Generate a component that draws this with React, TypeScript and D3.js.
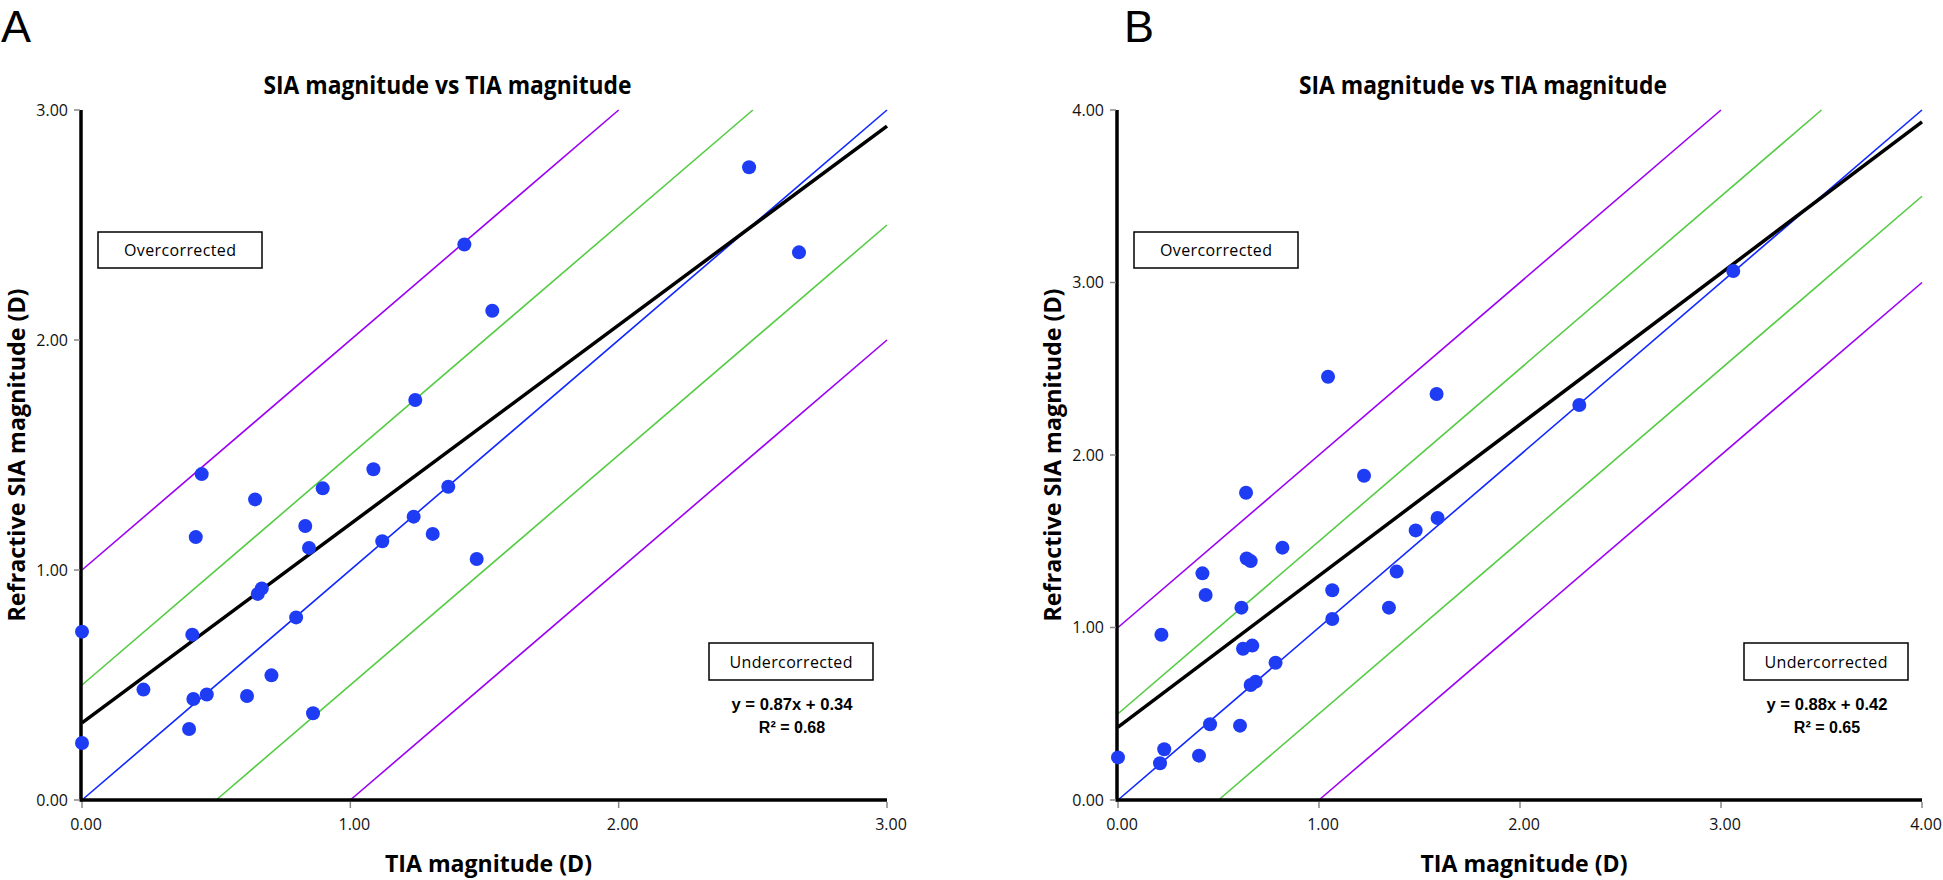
import React from "react";
import * as d3 from "d3";

const TITLE = "SIA magnitude vs TIA magnitude";
const X_LABEL = "TIA magnitude (D)";
const Y_LABEL = "Refractive SIA magnitude (D)";
const OVER = "Overcorrected";
const UNDER = "Undercorrected";

const ticksA = [0, 1, 2, 3];
const ticksB = [0, 1, 2, 3, 4];

const tiaA = [0.446, 0.645, 0.424, 1.086, 0.897, 0.832, 0.846, 1.236, 1.365, 1.119, 1.307, 1.471, 0.670, 0.655, 0.798, 0.0, 0.411, 0.229, 0.415, 0.465, 0.615, 0.706, 0.399, 0.861, 0.0, 2.486, 2.672, 1.425, 1.242, 1.529];
const siaA = [1.417, 1.307, 1.143, 1.438, 1.355, 1.191, 1.096, 1.232, 1.362, 1.125, 1.157, 1.048, 0.920, 0.896, 0.794, 0.732, 0.719, 0.480, 0.439, 0.459, 0.452, 0.542, 0.309, 0.377, 0.248, 2.751, 2.381, 2.415, 1.739, 2.127];

const tiaB = [0.637, 1.224, 1.590, 1.481, 0.818, 0.640, 0.660, 0.420, 0.436, 1.386, 0.614, 1.066, 1.348, 1.066, 0.216, 0.622, 0.668, 0.784, 0.660, 0.685, 0.458, 0.607, 0.230, 0.403, 0.209, 0.0, 1.045, 1.585, 3.061, 2.295];
const siaB = [1.781, 1.880, 1.635, 1.563, 1.463, 1.400, 1.385, 1.314, 1.188, 1.324, 1.115, 1.216, 1.115, 1.049, 0.958, 0.877, 0.895, 0.796, 0.667, 0.686, 0.439, 0.431, 0.294, 0.257, 0.213, 0.247, 2.454, 2.354, 3.067, 2.290];

const fitSlope = [0.865, 0.877];
const fitIntercept = [0.335, 0.423];
const fitEq = ["y = 0.87x + 0.34", "y = 0.88x + 0.42"];
const fitR2 = ["R² = 0.68", "R² = 0.65"];

const refOffsets = [-1, -0.5, 0, 0.5, 1];
const refColors = ["#9b00f5", "#55cc44", "#1028ff", "#55cc44", "#9b00f5"];

const FONT = "'Open Sans', 'DejaVu Sans', sans-serif";

type PanelProps = {
  letter: string;
  letterX: number;
  x0: number;
  x1: number;
  max: number;
  ticks: number[];
  tia: number[];
  sia: number[];
  idx: number;
};

function Panel({ letter, letterX, x0, x1, max, ticks, tia, sia, idx }: PanelProps) {
  const yTop = 110;
  const yBot = 800;
  const x = d3.scaleLinear().domain([0, max]).range([x0, x1]);
  const y = d3.scaleLinear().domain([0, max]).range([yBot, yTop]);
  const line = d3.line<[number, number]>().x((d) => x(d[0])).y((d) => y(d[1]));
  const plotCx = (x0 + x1) / 2;
  const plotCy = (yTop + yBot) / 2;
  const slope = fitSlope[idx];
  const icpt = fitIntercept[idx];
  const fitPts: [number, number][] = [[0, icpt], [max, icpt + slope * max]];
  const overX = x0 + 16;
  const underX1 = x1 - 14;
  const boxW = 164;
  return (
    <g>
      <text x={letterX} y={42} fontFamily="'Liberation Sans', Arial, sans-serif" fontSize={45} fill="#000">{letter}</text>
      <text x={plotCx - 37} y={94} textAnchor="middle" fontFamily={FONT} fontWeight="bold" fontSize={25}
        textLength={368} lengthAdjust="spacingAndGlyphs">{TITLE}</text>
      {refOffsets.map((c, i) => {
        const xa = Math.max(0, -c);
        const xb = Math.min(max, max - c);
        return (
          <path key={i} d={line([[xa, xa + c], [xb, xb + c]]) || ""} stroke={refColors[i]} strokeWidth={1.6} fill="none" />
        );
      })}
      <path d={line(fitPts) || ""} stroke="#000" strokeWidth={3.5} fill="none" />
      <line x1={x0 - 1} x2={x0 - 1} y1={yTop} y2={yBot + 1.5} stroke="#000" strokeWidth={3.5} />
      <line x1={x0 - 2} x2={x1} y1={yBot} y2={yBot} stroke="#000" strokeWidth={3.5} />
      {ticks.map((t) => (
        <g key={"y" + t}>
          <line x1={x0 - 8} x2={x0 - 2} y1={y(t)} y2={y(t)} stroke="#888" strokeWidth={1.5} />
          <text x={x0 - 14} y={y(t)} dy="0.36em" textAnchor="end" fontFamily={FONT} fontSize={16} fill="#111">{t.toFixed(2)}</text>
        </g>
      ))}
      {ticks.map((t) => (
        <g key={"x" + t}>
          <line x1={x(t)} x2={x(t)} y1={yBot + 2} y2={yBot + 8} stroke="#888" strokeWidth={1.5} />
          <text x={x(t) + 4} y={830} textAnchor="middle" fontFamily={FONT} fontSize={16} fill="#111">{t.toFixed(2)}</text>
        </g>
      ))}
      <text x={plotCx + 4} y={872} textAnchor="middle" fontFamily={FONT} fontWeight="bold" fontSize={24}
        textLength={207} lengthAdjust="spacingAndGlyphs">{X_LABEL}</text>
      <text transform={`translate(${x0 - 57},${plotCy}) rotate(-90)`} textAnchor="middle" fontFamily={FONT} fontWeight="bold" fontSize={24}
        textLength={333} lengthAdjust="spacingAndGlyphs">{Y_LABEL}</text>
      <rect x={overX} y={232} width={boxW} height={36} fill="#fff" stroke="#000" strokeWidth={1.5} />
      <text x={overX + boxW / 2} y={256} textAnchor="middle" fontFamily={FONT} fontSize={16}
        textLength={112} lengthAdjust="spacing">{OVER}</text>
      <rect x={underX1 - boxW} y={643} width={boxW} height={37} fill="#fff" stroke="#000" strokeWidth={1.5} />
      <text x={underX1 - boxW / 2} y={668} textAnchor="middle" fontFamily={FONT} fontSize={16}
        textLength={123} lengthAdjust="spacing">{UNDER}</text>
      <text x={underX1 - boxW / 2 + 1} y={710} textAnchor="middle" fontFamily="'Liberation Sans', Arial, sans-serif" fontWeight="bold" fontSize={16}
        textLength={121} lengthAdjust="spacingAndGlyphs">{fitEq[idx]}</text>
      <text x={underX1 - boxW / 2 + 1} y={733} textAnchor="middle" fontFamily="'Liberation Sans', Arial, sans-serif" fontWeight="bold" fontSize={16}>{fitR2[idx]}</text>
      {tia.map((v, i) => (
        <circle key={i} cx={x(v)} cy={y(sia[i])} r={7} fill="#1f3cf5" />
      ))}
    </g>
  );
}

export default function App() {
  return (
    <svg width={1943} height={880} style={{ position: "absolute", left: 0, top: 0, background: "#fff" }}>
      <rect width={1943} height={880} fill="#fff" />
      <Panel letter="A" letterX={1} x0={82} x1={887} max={3} ticks={ticksA} tia={tiaA} sia={siaA} idx={0} />
      <Panel letter="B" letterX={1124} x0={1118} x1={1922} max={4} ticks={ticksB} tia={tiaB} sia={siaB} idx={1} />
    </svg>
  );
}
